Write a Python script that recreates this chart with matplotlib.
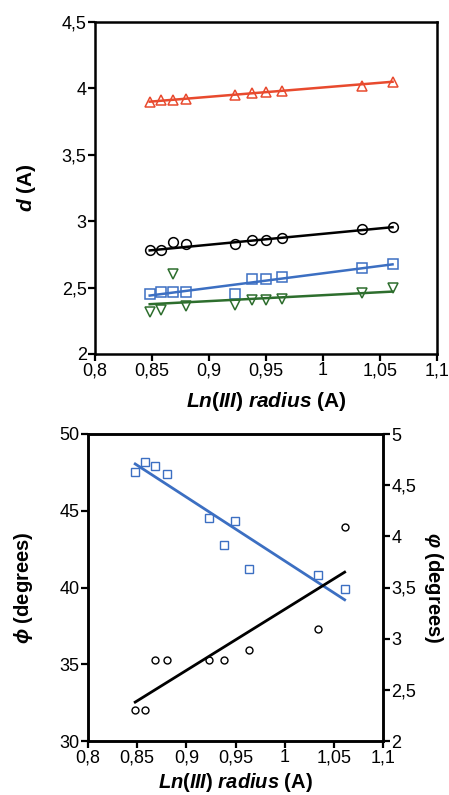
import numpy as np
import matplotlib
matplotlib.use('Agg')
import matplotlib.pyplot as plt
from matplotlib.ticker import FuncFormatter

plt.rcParams['font.family'] = ['Liberation Sans', 'DejaVu Sans']
plt.rcParams['axes.unicode_minus'] = False
# bold italic for the math parts of the labels
plt.rcParams['mathtext.fontset'] = 'custom'
plt.rcParams['mathtext.it'] = 'Liberation Sans:italic:bold'
plt.rcParams['mathtext.rm'] = 'Liberation Sans:bold'

# Ln(III) radius (x) for each lanthanide
radius = [0.848, 0.858, 0.868, 0.880, 0.923, 0.938, 0.950, 0.964, 1.034, 1.061]

# upper panel: distances d (A)
d_red = [3.90, 3.91, 3.91, 3.92, 3.95, 3.965, 3.975, 3.98, 4.02, 4.045]
d_black = [2.78, 2.785, 2.845, 2.83, 2.825, 2.86, 2.86, 2.87, 2.94, 2.96]
d_blue = [2.455, 2.465, 2.47, 2.47, 2.455, 2.565, 2.565, 2.58, 2.65, 2.68]
d_green = [2.32, 2.335, 2.60, 2.365, 2.37, 2.41, 2.405, 2.415, 2.46, 2.495]

# fitted lines (end points)
fit_x = [0.848, 1.061]
fit_red = [3.90, 4.05]
fit_black = [2.78, 2.955]
fit_blue = [2.44, 2.675]
fit_green = [2.375, 2.47]

# lower panel: phi (left axis) and psi (right axis)
phi = [47.5, 48.2, 47.9, 47.4, 44.5, 42.8, 44.35, 41.2, 40.8, 39.9]
fit_phi = [48.05, 39.2]
psi_x = [0.848, 0.858, 0.868, 0.880, 0.923, 0.938, 0.964, 1.034, 1.061]
psi = [2.30, 2.30, 2.79, 2.79, 2.79, 2.79, 2.89, 3.09, 4.09]
fit_psi = [2.38, 3.65]

RED = '#e84a2e'
BLUE = '#3c6fc2'
GREEN = '#2d6e2d'

comma = FuncFormatter(lambda v, p: ('%g' % round(v, 3)).replace('.', ','))


def style_axis(ax):
    for s in ax.spines.values():
        s.set_linewidth(1.8)
    ax.tick_params(direction='out', length=5, width=1.6, labelsize=13, pad=1)
    ax.xaxis.set_major_formatter(comma)
    ax.yaxis.set_major_formatter(comma)


fig = plt.figure(figsize=(4.49, 7.95), dpi=100)

# ---------- upper panel ----------
ax1 = fig.add_axes([95/449, 1 - 354/795, 342/449, 332/795])
mkw = dict(linestyle='none', markerfacecolor='none', markersize=7, markeredgewidth=1.1)
ax1.plot(radius, d_red, marker='^', markeredgecolor=RED, **mkw)
ax1.plot(radius, d_black, marker='o', markeredgecolor='black', **mkw)
ax1.plot(radius, d_blue, marker='s', markeredgecolor=BLUE, **mkw)
ax1.plot(radius, d_green, marker='v', markeredgecolor=GREEN, **mkw)
ax1.plot(fit_x, fit_red, color=RED, lw=1.8)
ax1.plot(fit_x, fit_black, color='black', lw=1.8)
ax1.plot(fit_x, fit_blue, color=BLUE, lw=1.8)
ax1.plot(fit_x, fit_green, color=GREEN, lw=1.8)
ax1.set_xlim(0.8, 1.1)
ax1.set_ylim(2, 4.5)
ax1.set_xticks(np.arange(0.8, 1.101, 0.05))
ax1.set_yticks(np.arange(2, 4.51, 0.5))
style_axis(ax1)
ax1.tick_params(right=False, top=False)
ax1.set_xlabel(r'$\mathit{Ln(III)\ radius}$ (A)', fontsize=15, fontweight='bold', labelpad=8)
ax1.set_ylabel(r'$\mathit{d}$ (A)', fontsize=15, fontweight='bold', labelpad=17)

# ---------- lower panel ----------
ax2 = fig.add_axes([88/449, 1 - 741/795, 295/449, 307/795])
ax2.plot(radius, phi, marker='s', linestyle='none', markerfacecolor='none',
         markeredgecolor=BLUE, markersize=6, markeredgewidth=1.0)
ax2.plot(fit_x, fit_phi, color=BLUE, lw=2)
ax2.set_xlim(0.8, 1.1)
ax2.set_ylim(30, 50)
ax2.set_xticks(np.arange(0.8, 1.101, 0.05))
ax2.set_yticks([30, 35, 40, 45, 50])
style_axis(ax2)
ax2.tick_params(right=False, top=False)
ax2.set_xlabel(r'$\mathit{Ln(III)\ radius}$ (A)', fontsize=14.5, fontweight='bold', labelpad=3)
ax2.set_ylabel(r'$\mathit{\phi}$ (degrees)', fontsize=14.5, fontweight='bold', labelpad=18)

ax3 = ax2.twinx()
ax3.plot(psi_x, psi, marker='o', linestyle='none', markerfacecolor='none',
         markeredgecolor='black', markersize=5, markeredgewidth=1.0)
ax3.plot(fit_x, fit_psi, color='black', lw=2)
ax3.set_ylim(2, 5)
ax3.set_yticks([2, 2.5, 3, 3.5, 4, 4.5, 5])
style_axis(ax3)
ax3.set_ylabel(r'$\mathit{\varphi}$ (degrees)', fontsize=14.5, fontweight='bold', rotation=270,
               labelpad=21)

fig.savefig('out.png', dpi=100)
